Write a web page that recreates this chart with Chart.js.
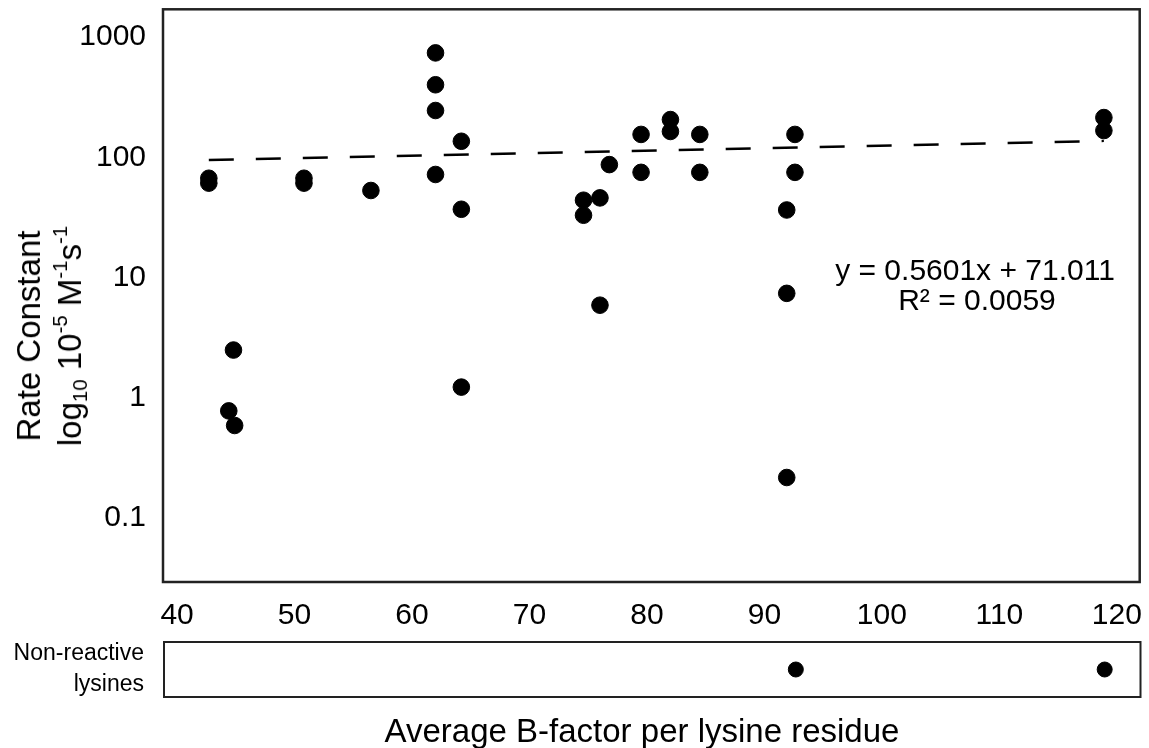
<!DOCTYPE html>
<html>
<head>
<meta charset="utf-8">
<script src="https://cdn.jsdelivr.net/npm/chart.js@4.4.0/dist/chart.umd.min.js"></script>
<style>
  body { margin: 0; background: #fff; width: 1149px; height: 748px; overflow: hidden; position: relative; font-family: 'Liberation Sans', Arial, sans-serif; }
  #mainChart { position: absolute; left: 0; top: 0; }
  #lowChart { position: absolute; left: 0; top: 630px; }
  #yTitle {
    position: absolute; left: 49px; top: 336px;
    transform: translate(-50%, -50%) rotate(-90deg);
    white-space: nowrap; text-align: center;
    font-size: 33px; line-height: 41px; color: #000;
  }
  #yTitle sub, #yTitle sup { font-size: 0.62em; line-height: 0; }
  #yTitle sup { vertical-align: 0.7em; }
  #yTitle sub { vertical-align: -0.3em; }
</style>
</head>
<body>
<canvas id="mainChart" width="1149" height="630"></canvas>
<canvas id="lowChart" width="1149" height="118"></canvas>
<div id="yTitle">Rate Constant<br>log<sub>10</sub> 10<sup>-5</sup> M<sup>-1</sup>s<sup>-1</sup></div>

<script>
// values
let reactiveX = [42.7, 42.7, 44.8, 44.4, 44.9, 50.8, 50.8, 56.5, 62.0, 62.0, 62.0, 62.0, 64.2, 64.2, 64.2,
  74.6, 74.6, 76.0, 76.0, 76.8, 79.5, 79.5, 82.0, 82.0, 84.5, 84.5, 91.9, 91.9, 91.9, 92.6, 92.6, 118.9, 118.9];
let reactiveY = [67, 61, 2.5, 0.78, 0.59, 67, 61, 53, 738, 401, 245, 72, 136, 37, 1.23,
  44, 33, 46, 5.9, 87, 155, 75, 206, 164, 155, 75, 36.5, 7.4, 0.218, 155, 75, 214, 167];
let nonReactiveX = [92.6, 118.9];
let trendX = [42.7, 118.9];
let trendY = [95, 137];
let xTicks = [40, 50, 60, 70, 80, 90, 100, 110, 120];
let yTicks = [0.1, 1, 10, 100, 1000];
let equationText = ['y = 0.5601x + 71.011', 'R\u00b2 = 0.0059'];
let xTitle = 'Average B-factor per lysine residue';
let lowCategory = 'Non-reactive lysines';

let fontName = "'Liberation Sans', Arial, sans-serif";
let ink = '#000';

function makePoints(xs, ys) {
  let pts = [];
  for (let i = 0; i < xs.length; i++) {
    pts.push({ x: xs[i], y: ys[i] });
  }
  return pts;
}

// chart.js adds room for half a label at each end, we don't want that
function noPad(scale) {
  scale.paddingTop = 0;
  scale.paddingBottom = 0;
  scale.paddingLeft = 0;
  scale.paddingRight = 0;
}

let boxPlugin = {
  id: 'box',
  afterDraw(chart, args, opts) {
    let a = chart.chartArea;
    let ctx = chart.ctx;
    ctx.save();
    ctx.strokeStyle = '#222';
    ctx.lineWidth = opts.width;
    ctx.strokeRect(a.left, a.top, a.right - a.left, a.bottom - a.top);
    ctx.restore();
  }
};

let mainText = {
  id: 'mainText',
  afterDraw(chart) {
    let ctx = chart.ctx;
    ctx.save();
    ctx.fillStyle = ink;
    ctx.font = '30px ' + fontName;
    ctx.textAlign = 'center';
    ctx.textBaseline = 'middle';
    ctx.fillText(equationText[0], 975, 272);
    ctx.fillText(equationText[1], 977, 302);
    ctx.restore();
  }
};

let lowText = {
  id: 'lowText',
  afterDraw(chart) {
    let ctx = chart.ctx;
    ctx.save();
    ctx.fillStyle = ink;
    ctx.font = '33px ' + fontName;
    ctx.textAlign = 'center';
    ctx.textBaseline = 'middle';
    ctx.fillText(xTitle, 642, 103);
    ctx.restore();
  }
};

let mainChart = new Chart(document.getElementById('mainChart'), {
  type: 'scatter',
  data: {
    datasets: [{
      data: makePoints(reactiveX, reactiveY),
      backgroundColor: '#000',
      borderColor: '#000',
      pointRadius: 8.3,
      pointHoverRadius: 8.3
    }, {
      type: 'line',
      data: makePoints(trendX, trendY),
      borderColor: '#000',
      borderWidth: 2.5,
      borderDash: [25, 22],
      pointRadius: 0,
      fill: false
    }]
  },
  options: {
    responsive: false,
    animation: false,
    layout: { padding: { top: 6, right: 6, left: 0, bottom: 0 } },
    plugins: { legend: { display: false }, tooltip: { enabled: false }, box: { width: 2.5 } },
    scales: {
      x: {
        type: 'linear', min: 38.8, max: 121.95,
        grid: { display: false, drawTicks: false },
        border: { display: false },
        afterBuildTicks(scale) { scale.ticks = xTicks.map(v => ({ value: v })); },
        afterFit(scale) { scale.height = 48; noPad(scale); },
        ticks: { color: ink, font: { size: 30, family: fontName }, padding: 16, maxRotation: 0, autoSkip: false }
      },
      y: {
        type: 'logarithmic', min: 0.0295, max: 1700,
        grid: { display: false, drawTicks: false },
        border: { display: false },
        afterBuildTicks(scale) { scale.ticks = yTicks.map(v => ({ value: v })); },
        afterFit(scale) { scale.width = 163; noPad(scale); },
        ticks: { color: ink, font: { size: 30, family: fontName }, padding: 17, autoSkip: false,
          callback: v => String(v) }
      }
    }
  },
  plugins: [boxPlugin, mainText]
});

let lowChart = new Chart(document.getElementById('lowChart'), {
  type: 'scatter',
  data: {
    datasets: [{
      data: nonReactiveX.map(v => ({ x: v, y: lowCategory })),
      backgroundColor: '#000',
      borderColor: '#000',
      pointRadius: 7.5,
      pointHoverRadius: 7.5
    }]
  },
  options: {
    responsive: false,
    animation: false,
    layout: { padding: { top: 12, right: 6, left: 0, bottom: 0 } },
    plugins: { legend: { display: false }, tooltip: { enabled: false }, box: { width: 2 } },
    scales: {
      x: {
        type: 'linear', min: 38.8, max: 121.95,
        display: true,
        grid: { display: false, drawTicks: false },
        border: { display: false },
        ticks: { display: false },
        afterFit(scale) { scale.height = 51; noPad(scale); }
      },
      y: {
        type: 'category', labels: [lowCategory], offset: true,
        grid: { display: false, drawTicks: false },
        border: { display: false },
        afterFit(scale) { scale.width = 164; noPad(scale); },
        ticks: { color: ink, font: { size: 23, family: fontName, lineHeight: 1.35 }, padding: 20,
          callback: (v, i) => lowCategory.split(' ') }
      }
    }
  },
  plugins: [boxPlugin, lowText]
});
</script>
</body>
</html>
